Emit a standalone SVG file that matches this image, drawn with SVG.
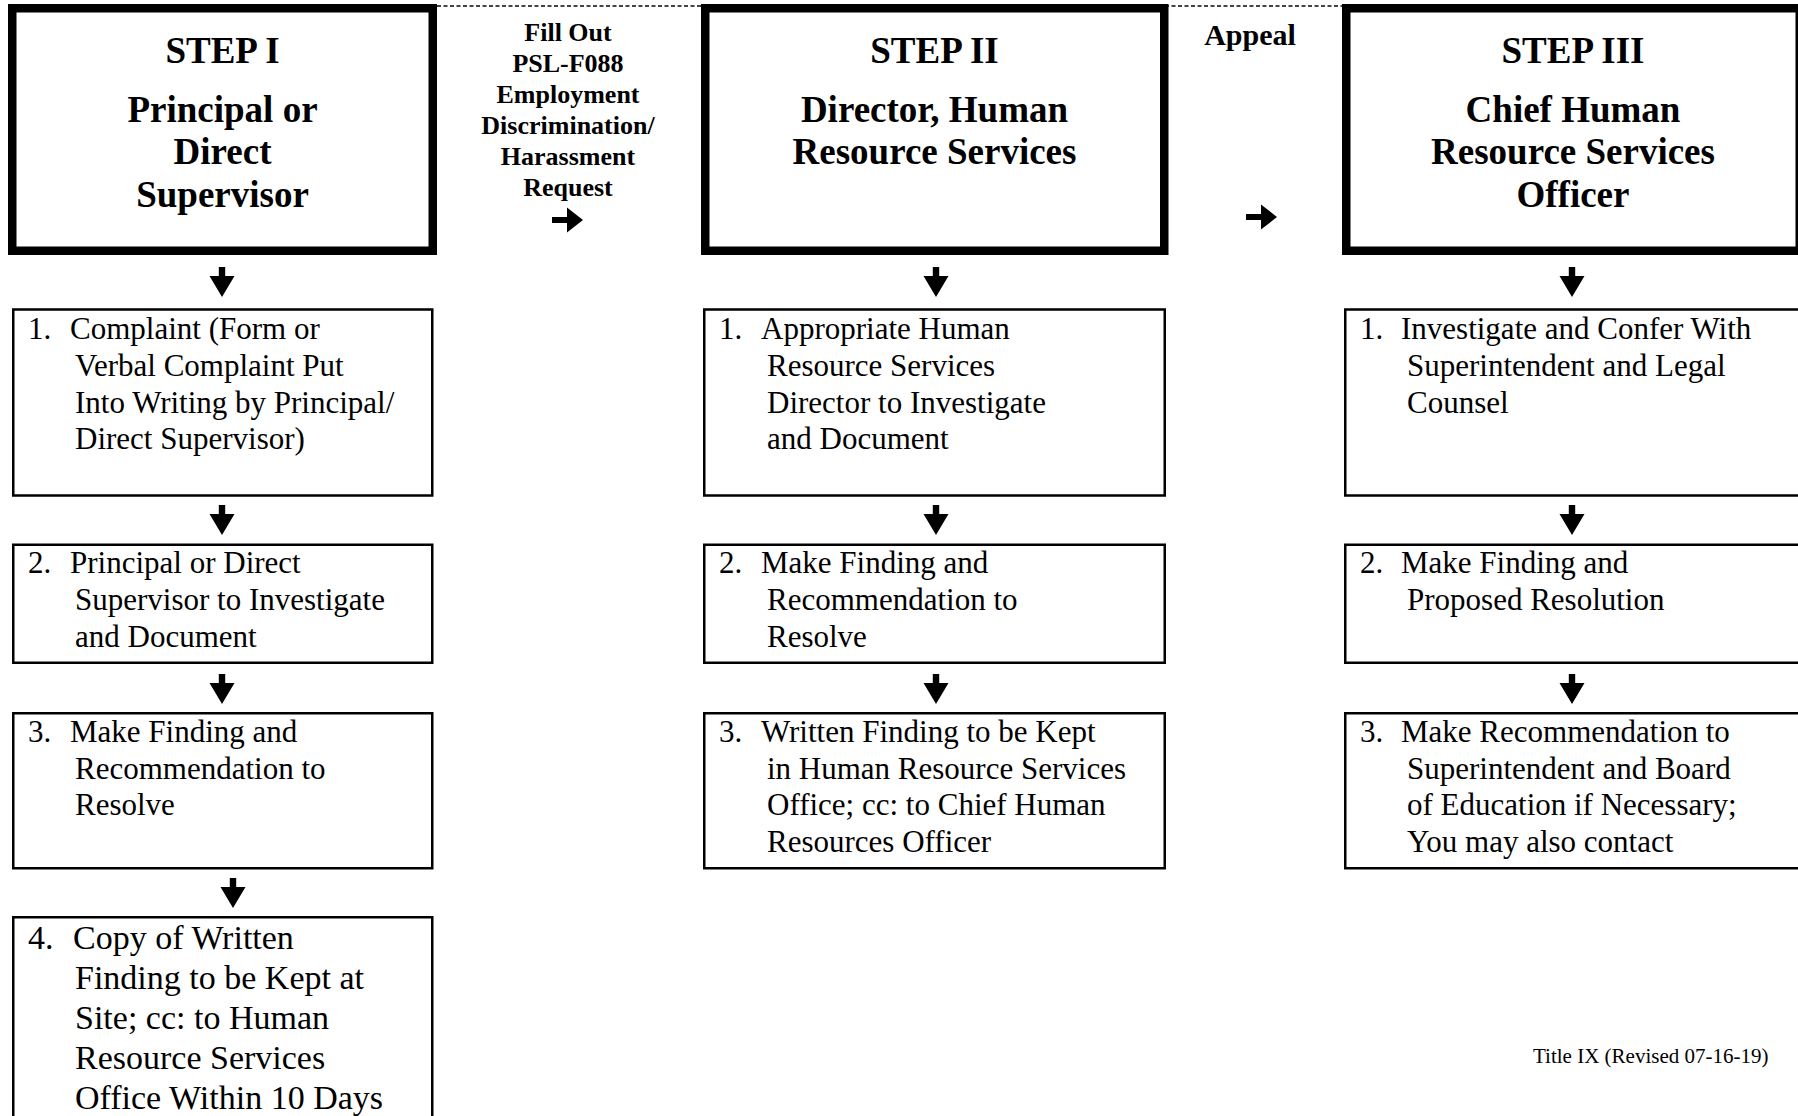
<svg xmlns="http://www.w3.org/2000/svg" width="1798" height="1116" viewBox="0 0 1798 1116">
<style>
  .thick { fill: #fff; stroke: #000; stroke-width: 8.5; }
  .box { fill: #fff; stroke: #000; stroke-width: 2.5; }
  .head { font-family: "Liberation Serif", "Times New Roman", serif; font-weight: bold; font-size: 37px; text-anchor: middle; fill: #000; }
  .lbl { font-family: "Liberation Serif", "Times New Roman", serif; font-weight: bold; font-size: 26px; text-anchor: middle; fill: #000; }
  .appeal { font-family: "Liberation Serif", "Times New Roman", serif; font-weight: bold; font-size: 30px; text-anchor: middle; fill: #000; }
  .item { font-family: "Liberation Serif", "Times New Roman", serif; font-size: 31px; fill: #000; }
  .item4 { font-family: "Liberation Serif", "Times New Roman", serif; font-size: 34px; fill: #000; }
  .foot { font-family: "Liberation Serif", "Times New Roman", serif; font-size: 21px; fill: #000; }
  .dash { stroke: #444; stroke-width: 2; stroke-dasharray: 4 2.5; fill: none; }
  .arr { fill: #000; }
</style>
<defs>
  <path id="down" d="M-3.2,0 H3.2 V9 H12.5 L0,30 L-12.5,9 H-3.2 Z"/>
  <path id="right" d="M0,-3 H15 V-12.5 L31,0 L15,12.5 V3 H0 Z"/>
</defs>

<g id="connectors">
  <line class="dash" x1="437" y1="6" x2="1343" y2="6"/>
  <use class="arr" href="#right" x="552" y="220"/>
  <use class="arr" href="#right" x="1246" y="217"/>
  <use class="arr" href="#down" x="222" y="267"/>
  <use class="arr" href="#down" x="222" y="505"/>
  <use class="arr" href="#down" x="222" y="674"/>
  <use class="arr" href="#down" x="233" y="878"/>
  <use class="arr" href="#down" x="936" y="267"/>
  <use class="arr" href="#down" x="936" y="505"/>
  <use class="arr" href="#down" x="936" y="674"/>
  <use class="arr" href="#down" x="1572" y="267"/>
  <use class="arr" href="#down" x="1572" y="505"/>
  <use class="arr" href="#down" x="1572" y="674"/>
</g>

<g id="step1">
  <rect class="thick" x="12.25" y="8.25" width="420.5" height="242.5"/>
  <text class="head" x="222.5" y="63">STEP I</text>
  <text class="head" x="222.5" y="122">Principal or</text>
  <text class="head" x="222.5" y="164">Direct</text>
  <text class="head" x="222.5" y="207">Supervisor</text>
</g>

<g id="step2">
  <rect class="thick" x="705.25" y="8.25" width="459" height="242.5"/>
  <text class="head" x="934.5" y="63">STEP II</text>
  <text class="head" x="934.5" y="122">Director, Human</text>
  <text class="head" x="934.5" y="164">Resource Services</text>
</g>

<g id="step3">
  <rect class="thick" x="1346.25" y="8.25" width="453.5" height="242.5"/>
  <text class="head" x="1573" y="63">STEP III</text>
  <text class="head" x="1573" y="122">Chief Human</text>
  <text class="head" x="1573" y="164">Resource Services</text>
  <text class="head" x="1573" y="207">Officer</text>
</g>

<g id="label-fill-out">
  <text class="lbl" x="568" y="41">Fill Out</text>
  <text class="lbl" x="568" y="72">PSL-F088</text>
  <text class="lbl" x="568" y="103">Employment</text>
  <text class="lbl" x="568" y="134">Discrimination/</text>
  <text class="lbl" x="568" y="165">Harassment</text>
  <text class="lbl" x="568" y="196">Request</text>
</g>

<g id="label-appeal">
  <text class="appeal" x="1250" y="45">Appeal</text>
</g>

<g id="s1-item1">
  <rect class="box" x="13.25" y="309.5" width="419" height="186"/>
  <text class="item" y="339"><tspan x="28">1.</tspan><tspan x="70">Complaint (Form or</tspan></text>
  <text class="item" x="75" y="376">Verbal Complaint Put</text>
  <text class="item" x="75" y="413">Into Writing by Principal/</text>
  <text class="item" x="75" y="449">Direct Supervisor)</text>
</g>

<g id="s1-item2">
  <rect class="box" x="13.25" y="544.75" width="419" height="118"/>
  <text class="item" y="573"><tspan x="28">2.</tspan><tspan x="70">Principal or Direct</tspan></text>
  <text class="item" x="75" y="610">Supervisor to Investigate</text>
  <text class="item" x="75" y="647">and Document</text>
</g>

<g id="s1-item3">
  <rect class="box" x="13.25" y="713.25" width="419" height="155"/>
  <text class="item" y="742"><tspan x="28">3.</tspan><tspan x="70">Make Finding and</tspan></text>
  <text class="item" x="75" y="779">Recommendation to</text>
  <text class="item" x="75" y="815">Resolve</text>
</g>

<g id="s1-item4">
  <rect class="box" x="13.25" y="917.25" width="419" height="260"/>
  <text class="item4" y="949"><tspan x="28">4.</tspan><tspan x="73">Copy of Written</tspan></text>
  <text class="item4" x="75" y="989">Finding to be Kept at</text>
  <text class="item4" x="75" y="1029">Site; cc: to Human</text>
  <text class="item4" x="75" y="1069">Resource Services</text>
  <text class="item4" x="75" y="1109">Office Within 10 Days</text>
</g>

<g id="s2-item1">
  <rect class="box" x="704.25" y="309.5" width="460.5" height="186"/>
  <text class="item" y="339"><tspan x="719">1.</tspan><tspan x="761">Appropriate Human</tspan></text>
  <text class="item" x="767" y="376">Resource Services</text>
  <text class="item" x="767" y="413">Director to Investigate</text>
  <text class="item" x="767" y="449">and Document</text>
</g>

<g id="s2-item2">
  <rect class="box" x="704.25" y="544.75" width="460.5" height="118"/>
  <text class="item" y="573"><tspan x="719">2.</tspan><tspan x="761">Make Finding and</tspan></text>
  <text class="item" x="767" y="610">Recommendation to</text>
  <text class="item" x="767" y="647">Resolve</text>
</g>

<g id="s2-item3">
  <rect class="box" x="704.25" y="713.25" width="460.5" height="155"/>
  <text class="item" y="742"><tspan x="719">3.</tspan><tspan x="761">Written Finding to be Kept</tspan></text>
  <text class="item" x="767" y="779">in Human Resource Services</text>
  <text class="item" x="767" y="815">Office; cc: to Chief Human</text>
  <text class="item" x="767" y="852">Resources Officer</text>
</g>

<g id="s3-item1">
  <rect class="box" x="1345.25" y="309.5" width="460" height="186"/>
  <text class="item" y="339"><tspan x="1360">1.</tspan><tspan x="1401">Investigate and Confer With</tspan></text>
  <text class="item" x="1407" y="376">Superintendent and Legal</text>
  <text class="item" x="1407" y="413">Counsel</text>
</g>

<g id="s3-item2">
  <rect class="box" x="1345.25" y="544.75" width="460" height="118"/>
  <text class="item" y="573"><tspan x="1360">2.</tspan><tspan x="1401">Make Finding and</tspan></text>
  <text class="item" x="1407" y="610">Proposed Resolution</text>
</g>

<g id="s3-item3">
  <rect class="box" x="1345.25" y="713.25" width="460" height="155"/>
  <text class="item" y="742"><tspan x="1360">3.</tspan><tspan x="1401">Make Recommendation to</tspan></text>
  <text class="item" x="1407" y="779">Superintendent and Board</text>
  <text class="item" x="1407" y="815">of Education if Necessary;</text>
  <text class="item" x="1407" y="852">You may also contact</text>
</g>

<g id="footer">
  <text class="foot" x="1533" y="1063">Title IX (Revised 07-16-19)</text>
</g>
</svg>
